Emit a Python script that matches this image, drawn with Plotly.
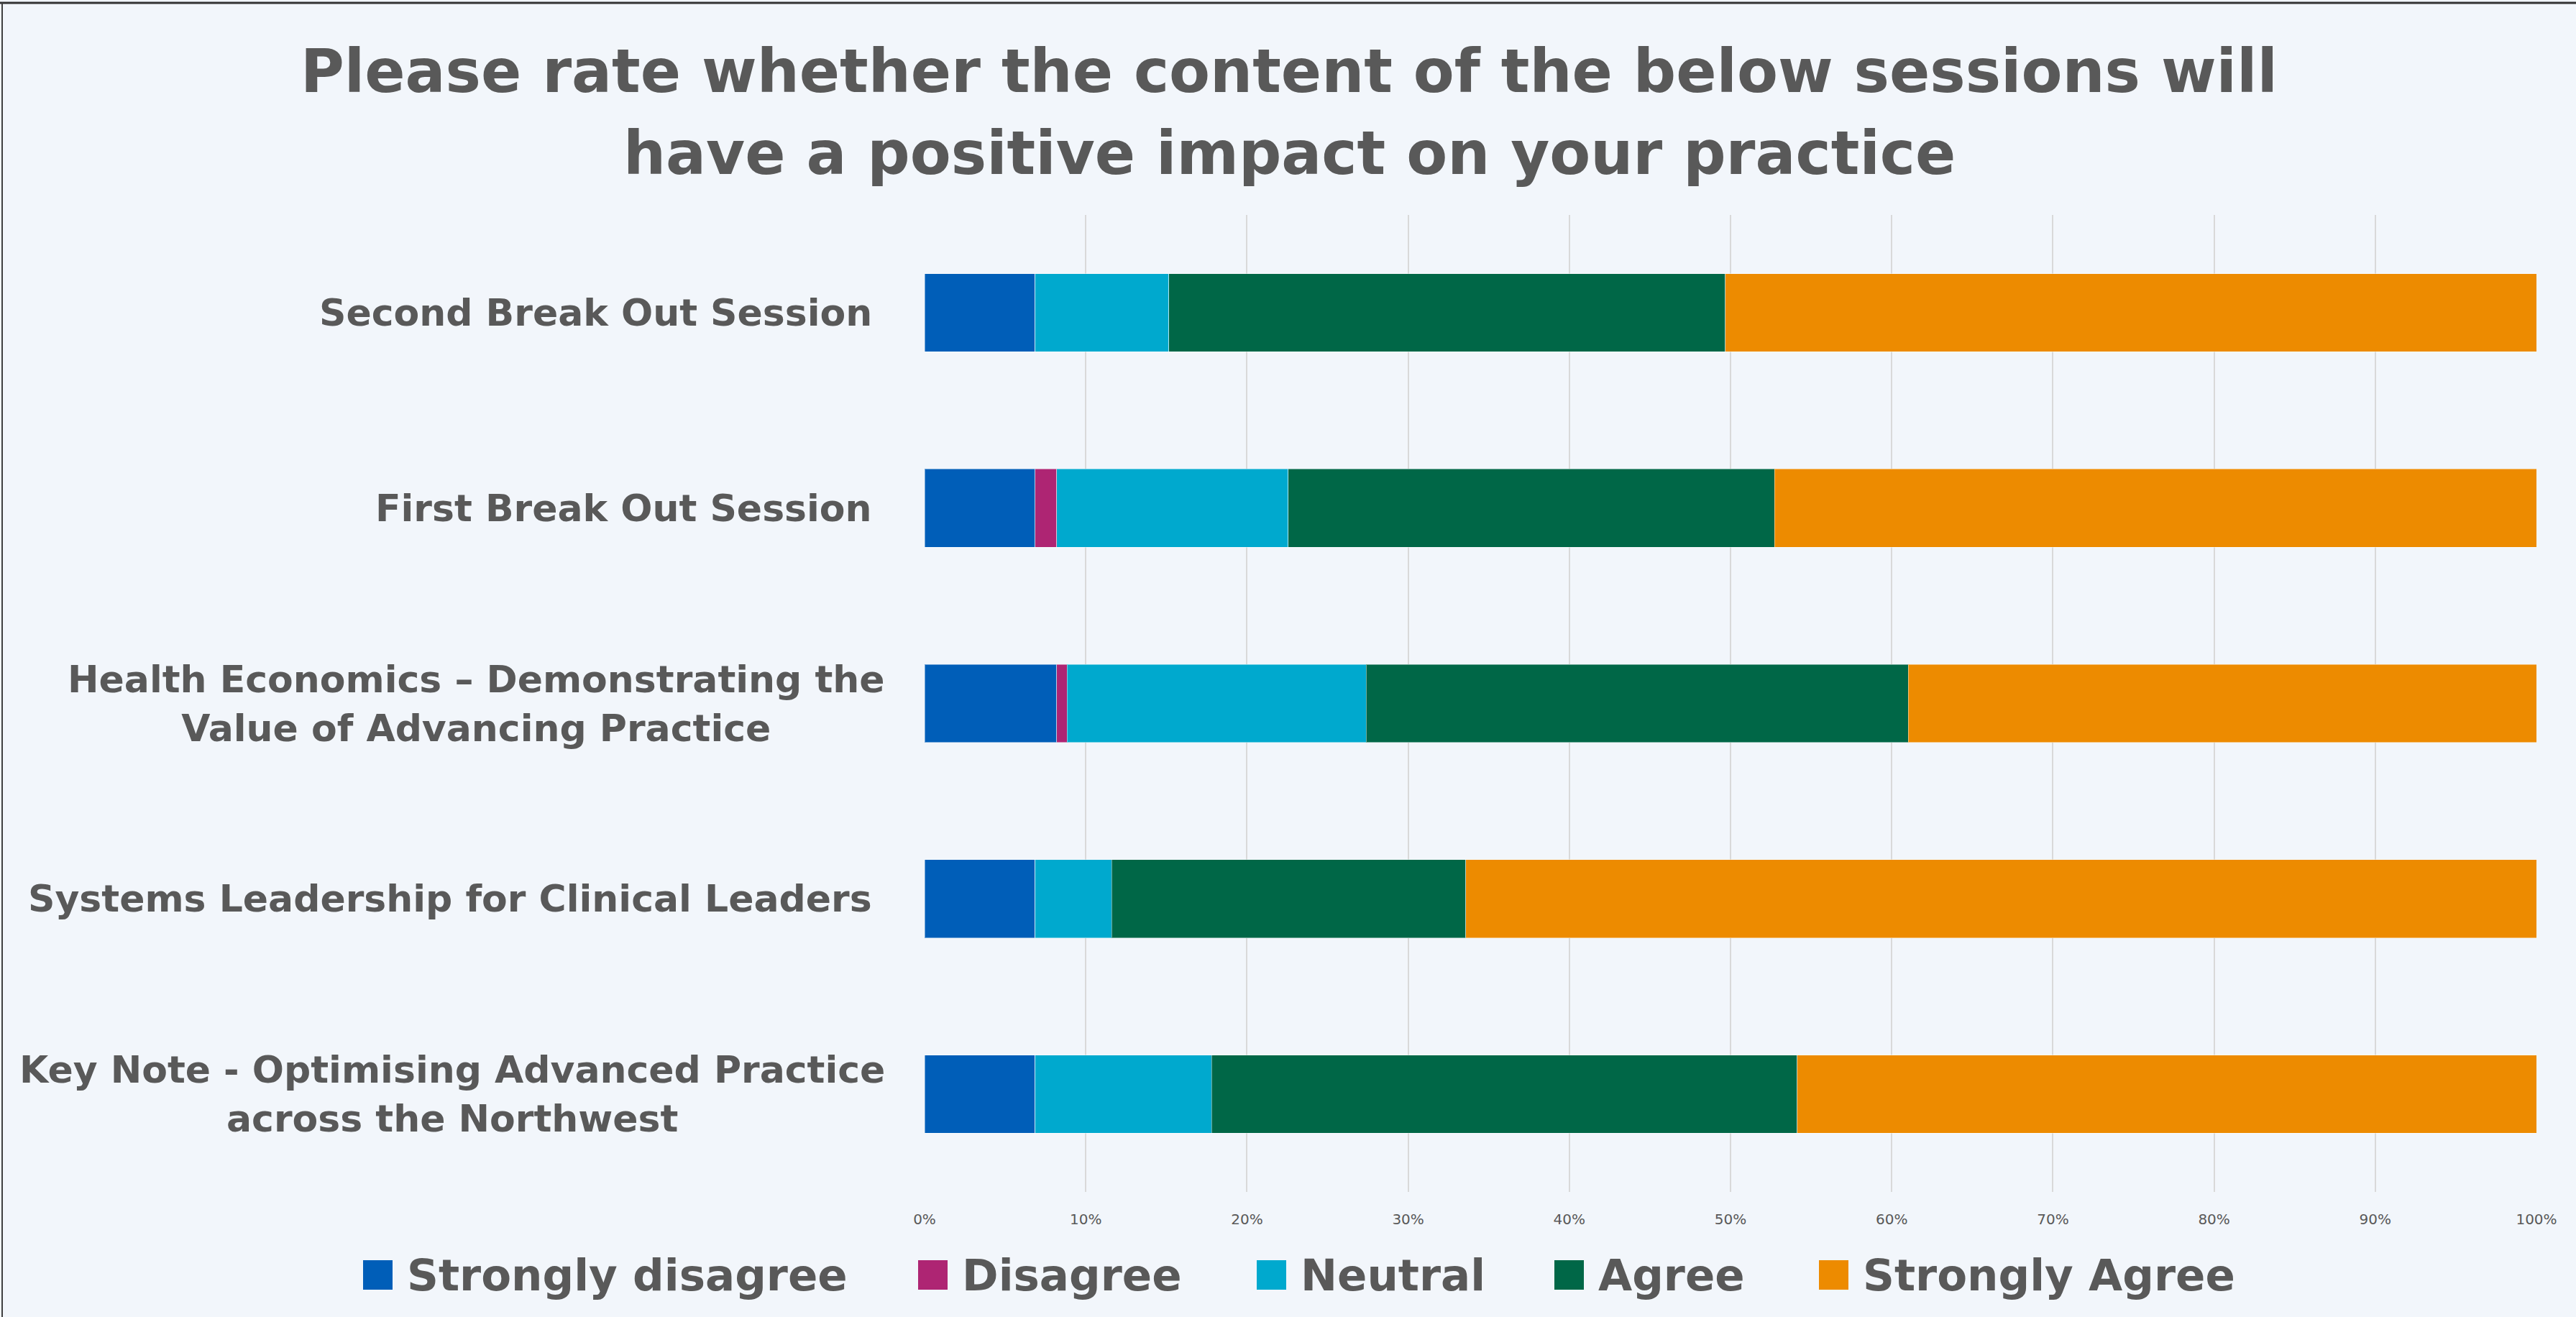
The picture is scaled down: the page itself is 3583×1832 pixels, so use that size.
import plotly.graph_objects as go

# ---------------- data ----------------
categories = [
    "Second Break Out Session ",
    "First Break Out Session ",
    "Health Economics – Demonstrating the<br>Value of Advancing Practice",
    "Systems Leadership for Clinical Leaders ",
    "Key Note - Optimising Advanced Practice<br>across the Northwest",
]
series_names = ["Strongly disagree", "Disagree", "Neutral", "Agree", "Strongly Agree"]
strongly_disagree = [6.86, 6.86, 8.19, 6.86, 6.86]
disagree = [0.0, 1.33, 0.65, 0.0, 0.0]
neutral = [8.29, 14.37, 18.56, 4.74, 10.95]
agree = [34.53, 30.17, 33.63, 21.98, 36.32]
strongly_agree = [50.32, 47.27, 38.97, 66.42, 45.87]
tick_values = [0, 10, 20, 30, 40, 50, 60, 70, 80, 90, 100]
tick_labels = ["0%", "10%", "20%", "30%", "40%", "50%", "60%", "70%", "80%", "90%", "100%"]
title_lines = ["Please rate whether the content of the below sessions will",
               "have a positive impact on your practice"]

series_values = [strongly_disagree, disagree, neutral, agree, strongly_agree]
colors = ["#005EB8", "#AE2573", "#00A9CE", "#006747", "#ED8B00"]

# ---------------- layout geometry (pixels) ----------------
W, H = 3583, 1832
L, R, T, B = 1286, 3528, 299, 1658
PW, PH = R - L, B - T
BG = "#F2F6FB"
TXT = "#595959"
FONT = "DejaVu Sans"


def px2x(px):
    return (px - L) / PW


def py2y(py):
    return (B - py) / PH


fig = go.Figure()
for name, vals, col in zip(series_names, series_values, colors):
    fig.add_trace(go.Bar(
        y=categories, x=vals, name=name, orientation="h",
        marker=dict(color=col, line=dict(color="rgba(255,255,255,0.45)", width=1)),
        showlegend=False,
    ))

annotations = []
# title (two lines, Excel-like spacing)
title_line_mid_y = [99, 213]
for line, ym in zip(title_lines, title_line_mid_y):
    annotations.append(dict(
        x=px2x(1793), xref="paper", y=py2y(ym), yref="paper",
        xanchor="center", yanchor="middle", text=line, showarrow=False,
        font=dict(family=FONT, size=83, color=TXT, weight="bold"),
    ))

# category labels (right-aligned block, centred lines)
for cat in categories:
    txt = cat[:-1] + "\u00a0" if cat.endswith(" ") else cat
    annotations.append(dict(
        x=px2x(1233), xref="paper", y=cat, yref="y",
        xanchor="right", yanchor="middle", align="center",
        text=txt, showarrow=False,
        font=dict(family=FONT, size=52, color=TXT, weight="bold"),
    ))

# custom legend
legend_swatch_left = [505, 1277, 1748, 2162, 2530]
swatch = 41
legend_y_top, legend_y_bot = 1753, 1794
shapes = []
for name, col, x0 in zip(series_names, colors, legend_swatch_left):
    shapes.append(dict(
        type="rect", xref="paper", yref="paper",
        x0=px2x(x0), x1=px2x(x0 + swatch),
        y0=py2y(legend_y_bot), y1=py2y(legend_y_top),
        fillcolor=col, line=dict(width=0),
    ))
    annotations.append(dict(
        x=px2x(x0 + swatch + 18), xref="paper",
        y=py2y((legend_y_top + legend_y_bot) / 2), yref="paper",
        xanchor="left", yanchor="middle", text=name, showarrow=False,
        font=dict(family=FONT, size=61, color=TXT, weight="bold"),
    ))

# outer frame lines (top and left)
shapes.append(dict(type="line", xref="paper", yref="paper",
                   x0=px2x(0), x1=px2x(W), y0=py2y(4), y1=py2y(4),
                   line=dict(color="#333333", width=3)))
shapes.append(dict(type="line", xref="paper", yref="paper",
                   x0=px2x(3), x1=px2x(3), y0=py2y(4), y1=py2y(H),
                   line=dict(color="#404040", width=2)))

fig.update_layout(
    template="none",
    width=W, height=H,
    margin=dict(l=L, r=W - R, t=T, b=H - B, pad=0, autoexpand=False),
    paper_bgcolor=BG, plot_bgcolor=BG,
    barmode="stack", bargap=0.6,
    xaxis=dict(
        range=[0, 100], tickvals=tick_values, ticktext=tick_labels,
        showgrid=True, gridcolor="#D9D9D9", gridwidth=2,
        zeroline=False, showline=False,
        ticks="outside", ticklen=20, tickcolor=BG,
        tickfont=dict(family=FONT, size=20, color=TXT),
        automargin=False, fixedrange=True,
    ),
    yaxis=dict(
        autorange="reversed", showticklabels=False, showgrid=False,
        zeroline=False, showline=False, ticks="", automargin=False,
    ),
    annotations=annotations,
    shapes=shapes,
    showlegend=False,
)

fig.write_html(
    "out.html",
    config={"displayModeBar": False},
    post_script="document.body.style.margin='0';document.body.style.overflow='hidden';",
)
